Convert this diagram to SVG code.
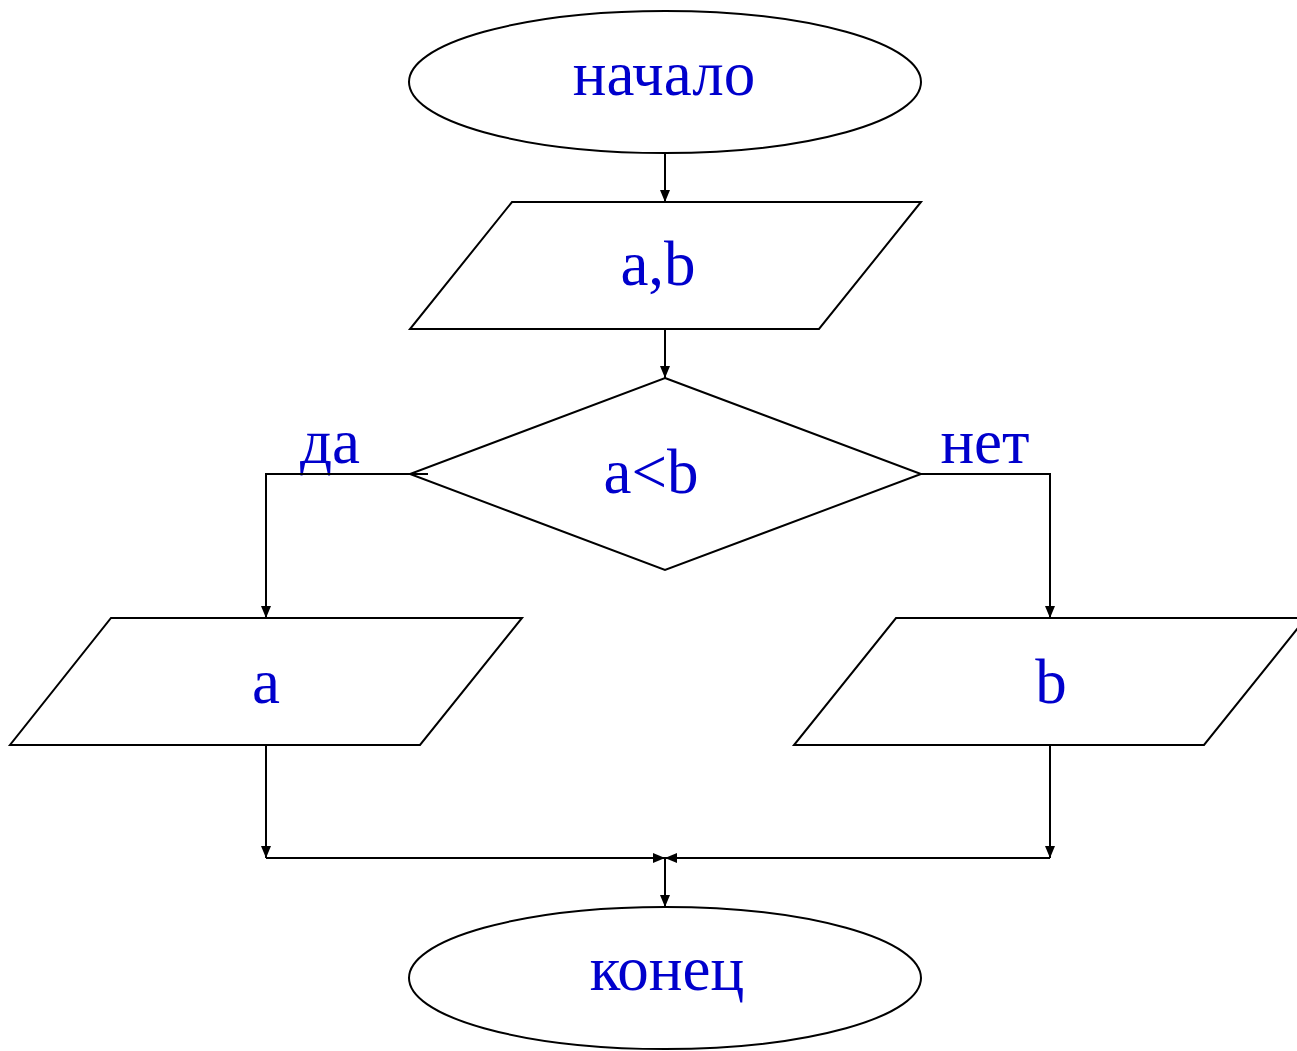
<svg xmlns="http://www.w3.org/2000/svg" width="1297" height="1051" viewBox="0 0 1297 1051">
  <defs>
    <marker id="arrow" viewBox="0 0 12 10" refX="12" refY="5" markerWidth="12" markerHeight="10" markerUnits="userSpaceOnUse" orient="auto">
      <path d="M0,0 L12,5 L0,10 z" fill="#000"/>
    </marker>
  </defs>
  <style>
    .shape { fill: #fff; stroke: #000; stroke-width: 2; }
    .line { fill: none; stroke: #000; stroke-width: 2; }
    .arr { marker-end: url(#arrow); }
    .label { font-family: "Liberation Serif", "Times New Roman", serif; font-size: 63px; fill: #0000CC; text-anchor: middle; }
  </style>
  <rect width="1297" height="1051" fill="#fff"/>

  <!-- start terminator -->
  <g id="start">
    <ellipse class="shape" cx="665" cy="82" rx="256" ry="71"/>
    <text class="label" x="664" y="95">начало</text>
  </g>

  <!-- input a, b -->
  <g id="input">
    <polygon class="shape" points="512,202 921,202 819,329 410,329"/>
    <text class="label" x="658" y="285">a,b</text>
  </g>

  <!-- condition -->
  <g id="condition">
    <polygon class="shape" points="665,378 921,474 665,570 410,474"/>
    <text class="label" x="651" y="493">a&lt;b</text>
  </g>

  <!-- branch labels -->
  <g id="labels">
    <text class="label" x="330" y="463">да</text>
    <text class="label" x="985" y="463">нет</text>
  </g>

  <!-- output a -->
  <g id="out-a">
    <polygon class="shape" points="111,618 522,618 420,745 10,745"/>
    <text class="label" x="266" y="703">a</text>
  </g>

  <!-- output b -->
  <g id="out-b">
    <polygon class="shape" points="896,618 1306,618 1204,745 794,745"/>
    <text class="label" x="1051" y="703">b</text>
  </g>

  <!-- end terminator -->
  <g id="end">
    <ellipse class="shape" cx="665" cy="978" rx="256" ry="71"/>
    <text class="label" x="667" y="990">конец</text>
  </g>

  <!-- connectors -->
  <g id="connectors">
    <line class="line arr" x1="665" y1="153" x2="665" y2="202"/>
    <line class="line arr" x1="665" y1="329" x2="665" y2="378"/>
    <polyline class="line arr" points="428,474 266,474 266,618"/>
    <polyline class="line arr" points="921,474 1050,474 1050,618"/>
    <line class="line arr" x1="266" y1="745" x2="266" y2="858"/>
    <line class="line arr" x1="1050" y1="745" x2="1050" y2="858"/>
    <line class="line arr" x1="266" y1="858" x2="665" y2="858"/>
    <line class="line arr" x1="1050" y1="858" x2="665" y2="858"/>
    <line class="line arr" x1="665" y1="858" x2="665" y2="907"/>
  </g>
</svg>
